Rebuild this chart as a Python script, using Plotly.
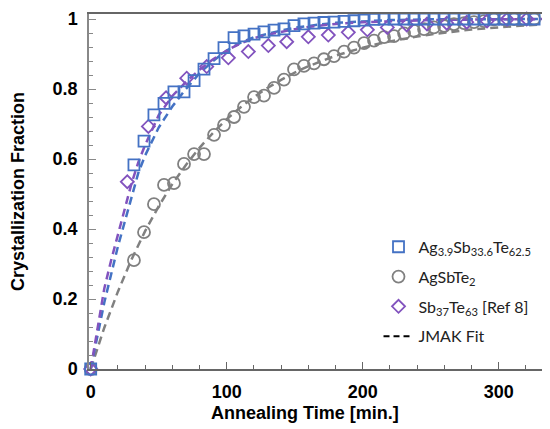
import plotly.graph_objects as go

# ---- measured data ----
t_meas = [0, 31.8, 39.2, 46.5, 53.9, 61.2, 68.6, 76.0, 83.3, 90.7, 98.0, 105.4, 112.7, 120.1,
          127.4, 134.8, 142.1, 149.5, 156.8, 164.2, 171.5, 178.9, 186.3, 193.6, 201.0, 208.3,
          215.7, 223.0, 230.4, 237.7, 245.1, 252.4, 259.8, 267.1, 274.5, 281.8, 289.2, 296.5,
          303.9, 311.3, 318.6, 326.0]

ag39 = [0, 0.583, 0.651, 0.726, 0.759, 0.792, 0.792, 0.824, 0.857, 0.887, 0.918, 0.947, 0.952,
        0.957, 0.963, 0.968, 0.972, 0.981, 0.986, 0.988, 0.990, 0.991, 0.993, 0.995, 0.997,
        0.999, 1.0, 1.0, 1.0, 1.0, 1.0, 1.0, 1.0, 1.0, 1.0, 1.0, 1.0, 1.0, 1.0, 1.0, 1.0, 1.0]

agsbte2 = [0, 0.311, 0.391, 0.471, 0.526, 0.531, 0.586, 0.614, 0.614, 0.669, 0.697, 0.720,
           0.749, 0.777, 0.781, 0.803, 0.827, 0.856, 0.866, 0.873, 0.885, 0.894, 0.907, 0.918,
           0.931, 0.938, 0.948, 0.951, 0.959, 0.966, 0.971, 0.976, 0.980, 0.985, 0.988, 0.991,
           0.994, 0.999, 1.0, 1.0, 1.0, 1.0]

t_sbte = [0, 26.9, 42.4, 55.4, 70.6, 85.3, 101.2, 115.9, 130.6, 144.1, 160.0, 174.7, 189.4,
          203.4, 218.1, 232.4, 247.3, 261.8, 276.5, 291.4, 306.1, 320.6]
sbte = [0, 0.535, 0.693, 0.775, 0.831, 0.864, 0.889, 0.907, 0.924, 0.935, 0.949, 0.954, 0.962,
        0.969, 0.976, 0.983, 0.986, 0.988, 0.991, 0.994, 0.999, 1.0]

# ---- JMAK fit curves ----
t_fit = [0, 5, 10, 15, 20, 25, 30, 35, 40, 50, 60, 70, 80, 90, 100, 110, 120, 130, 140, 150,
         160, 170, 180, 200, 220, 250, 300, 345]
fit_ag39 = [0, 0.10, 0.19, 0.27, 0.35, 0.42, 0.49, 0.56, 0.61, 0.69, 0.75, 0.80, 0.845, 0.88,
            0.91, 0.932, 0.948, 0.958, 0.967, 0.975, 0.981, 0.985, 0.989, 0.994, 0.997, 0.999,
            1.0, 1.0]
fit_sbte = [0, 0.12, 0.23, 0.31, 0.385, 0.46, 0.53, 0.59, 0.64, 0.725, 0.78, 0.82, 0.855, 0.885,
            0.91, 0.93, 0.945, 0.955, 0.964, 0.971, 0.977, 0.982, 0.986, 0.991, 0.994, 0.997,
            0.999, 1.0]
t_fit_g = [0, 10, 20, 30, 40, 50, 60, 70, 80, 90, 100, 110, 120, 130, 140, 150, 160, 170, 180,
           190, 200, 210, 220, 230, 240, 250, 260, 270, 280, 290, 300, 310, 320, 330]
fit_agsbte2 = [0, 0.118, 0.221, 0.313, 0.394, 0.465, 0.528, 0.583, 0.632, 0.675, 0.714, 0.747,
               0.777, 0.803, 0.826, 0.847, 0.865, 0.881, 0.895, 0.907, 0.918, 0.928, 0.936,
               0.944, 0.950, 0.956, 0.961, 0.966, 0.970, 0.973, 0.977, 0.979, 0.982, 0.984]

names = ["Ag<sub>3.9</sub>Sb<sub>33.6</sub>Te<sub>62.5</sub>", "AgSbTe<sub>2</sub>",
         "Sb<sub>37</sub>Te<sub>63</sub> [Ref 8]", "JMAK Fit"]

BLUE = "#4472C4"
GRAY = "#808080"
PURPLE = "#8253BE"
DASH = "8px,5px"

fig = go.Figure()

fig.add_trace(go.Scatter(x=t_fit_g, y=fit_agsbte2, mode="lines", showlegend=False,
                         line=dict(color=GRAY, width=2.5, dash=DASH)))
fig.add_trace(go.Scatter(x=t_fit, y=fit_ag39, mode="lines", showlegend=False,
                         line=dict(color=BLUE, width=2.5, dash=DASH)))
fig.add_trace(go.Scatter(x=t_fit, y=fit_sbte, mode="lines", showlegend=False,
                         line=dict(color=PURPLE, width=2.5, dash=DASH)))

fig.add_trace(go.Scatter(x=t_meas, y=agsbte2, mode="markers", name=names[1], legendrank=2,
                         legendgroup="b", cliponaxis=False,
                         marker=dict(symbol="circle-open", size=12, color=GRAY,
                                     line=dict(width=1.8, color=GRAY))))
fig.add_trace(go.Scatter(x=t_sbte, y=sbte, mode="markers", name=names[2], legendrank=3,
                         legendgroup="c", cliponaxis=False,
                         marker=dict(symbol="diamond-open", size=10, color=PURPLE,
                                     line=dict(width=1.8, color=PURPLE))))
fig.add_trace(go.Scatter(x=t_meas, y=ag39, mode="markers", name=names[0], legendrank=1,
                         legendgroup="a", cliponaxis=False,
                         marker=dict(symbol="square-open", size=11, color=BLUE,
                                     line=dict(width=1.8, color=BLUE))))
fig.add_trace(go.Scatter(x=[None], y=[None], mode="lines", name=names[3], legendrank=4,
                         legendgroup="d",
                         line=dict(color="#000000", width=2, dash="6px,4px")))

tickfont = dict(family="Liberation Sans, Arial", size=18, color="black", weight="bold")

# page body has an 8px default margin: figure is sized to fit the 550x429 window
fig.update_layout(
    width=542, height=421,
    margin=dict(l=81, r=0, t=6, b=60),
    plot_bgcolor="white", paper_bgcolor="white",
    showlegend=True,
    legend=dict(x=0.628, y=0.392, xanchor="left", yanchor="top",
                font=dict(family="Lato, Calibri, sans-serif", size=16, color="#222"),
                bgcolor="rgba(0,0,0,0)", tracegroupgap=6, traceorder="grouped"),
    xaxis=dict(range=[-1.25, 337.7], showgrid=False, zeroline=False,
               showline=True, linecolor="#666666", linewidth=1.5, mirror=True,
               ticks="inside", ticklen=7, tickwidth=1, tickcolor="#666666",
               tick0=0, dtick=100, tickfont=tickfont, ticklabelstandoff=6,
               minor=dict(dtick=20, ticks="inside", ticklen=4, tickcolor="#666666",
                          showgrid=False)),
    yaxis=dict(range=[0, 1.0143], showgrid=False, zeroline=False,
               showline=True, linecolor="#888888", linewidth=1.5,
               ticks="inside", ticklen=7, tickwidth=1, tickcolor="#888888",
               tick0=0, dtick=0.2, tickfont=tickfont, tickformat="~g", ticklabelstandoff=6,
               minor=dict(dtick=0.04, ticks="inside", ticklen=4, tickcolor="#888888",
                          showgrid=False),
               title=dict(text="Crystallization Fraction", standoff=24,
                          font=dict(family="Liberation Sans, Arial", size=18,
                                    color="black", weight="bold"))),
    annotations=[dict(text="Annealing Time [min.]", xref="paper", yref="paper",
                      x=(305 - 89) / 461, y=(369 - 413) / 355, xanchor="center",
                      yanchor="middle", showarrow=False,
                      font=dict(family="Liberation Sans, Arial", size=18, color="black",
                                weight="bold"))],
)

fig.write_html("out.html")
